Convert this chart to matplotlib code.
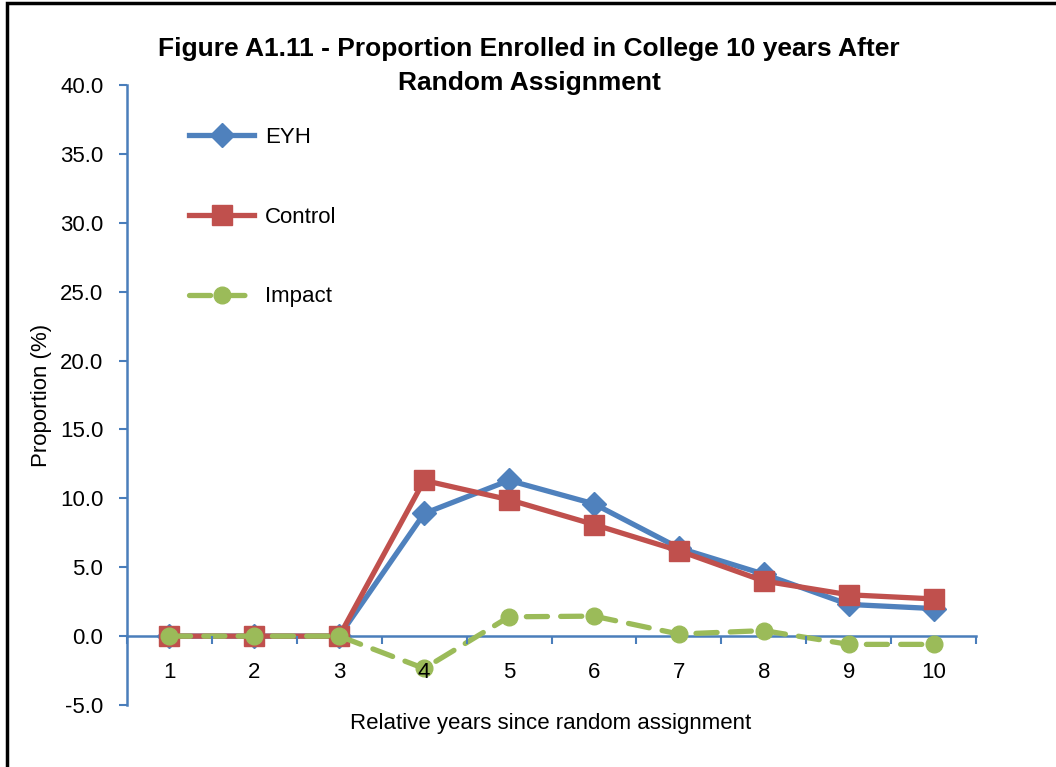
import numpy as np
import matplotlib.pyplot as plt
from matplotlib.patches import Rectangle

plt.rcParams['font.family'] = ['Liberation Sans Narrow', 'Liberation Sans', 'DejaVu Sans']

years = [1, 2, 3, 4, 5, 6, 7, 8, 9, 10]
eyh = [0.0, 0.0, 0.0, 8.9, 11.3, 9.6, 6.4, 4.5, 2.3, 2.0]
control = [0.0, 0.0, 0.0, 11.3, 9.9, 8.1, 6.2, 4.0, 3.0, 2.7]
impact = [0.0, 0.0, 0.0, -2.35, 1.4, 1.45, 0.15, 0.4, -0.6, -0.6]
yticks = [-5, 0, 5, 10, 15, 20, 25, 30, 35, 40]

blue = '#4F81BD'
red = '#C0504D'
green = '#9BBB59'
axis_col = '#4A7EBB'

fig = plt.figure(figsize=(10.56, 7.67), dpi=100)
ax = fig.add_axes([127 / 1056, 1 - 705 / 767, (976 - 127) / 1056, (705 - 85) / 767])

ax.plot(years, eyh, color=blue, lw=3.8, marker='D', ms=12, label='EYH')
ax.plot(years, control, color=red, lw=3.8, marker='s', ms=15, label='Control')
ax.plot(years, impact, color=green, lw=3.8, ls=(0, (4, 2.5)), marker='o', ms=12,
        dash_capstyle='round', label='Impact')

ax.set_xlim(0.5, 10.5)
ax.set_ylim(-5, 40)
ax.set_yticks(yticks)
ax.set_yticklabels([f'{v:.1f}' for v in yticks])
ax.set_xticks(years)
ax.set_xticks(np.arange(0.5, 11, 1), minor=True)
ax.tick_params(axis='x', which='major', length=0, labelsize=16, pad=19)
ax.tick_params(axis='x', which='minor', length=6, width=1.5, color=axis_col, direction='out')
ax.tick_params(axis='y', length=6, width=1.5, color=axis_col, labelsize=16, pad=11)
ax.xaxis.set_zorder(5)

for s in ['top', 'right']:
    ax.spines[s].set_visible(False)
ax.spines['bottom'].set_position(('data', 0))
for s in ['bottom', 'left']:
    ax.spines[s].set_color(axis_col)
    ax.spines[s].set_linewidth(1.8)
    ax.spines[s].set_zorder(1)

ax.set_ylabel('Proportion (%)', fontsize=16, labelpad=6)
fig.text(551 / 1056, 1 - 724 / 767, 'Relative years since random assignment',
         fontsize=16, ha='center', va='center')

fig.text(529 / 1056, 1 - 66 / 767,
         'Figure A1.11 - Proportion Enrolled in College 10 years After\nRandom Assignment',
         fontsize=19, fontweight='bold', ha='center', va='center', linespacing=1.5)

ax.legend(loc='upper left', bbox_to_anchor=(0.05, 0.965), frameon=False, fontsize=16,
          handlelength=2.9, labelspacing=2.65, handletextpad=0.5)

fig.add_artist(Rectangle((7 / 1056, -0.1), 1.2, 1.1 - 3 / 767, transform=fig.transFigure,
                         fill=False, edgecolor='black', lw=2.5, clip_on=False))

fig.savefig('out.png', dpi=100)
